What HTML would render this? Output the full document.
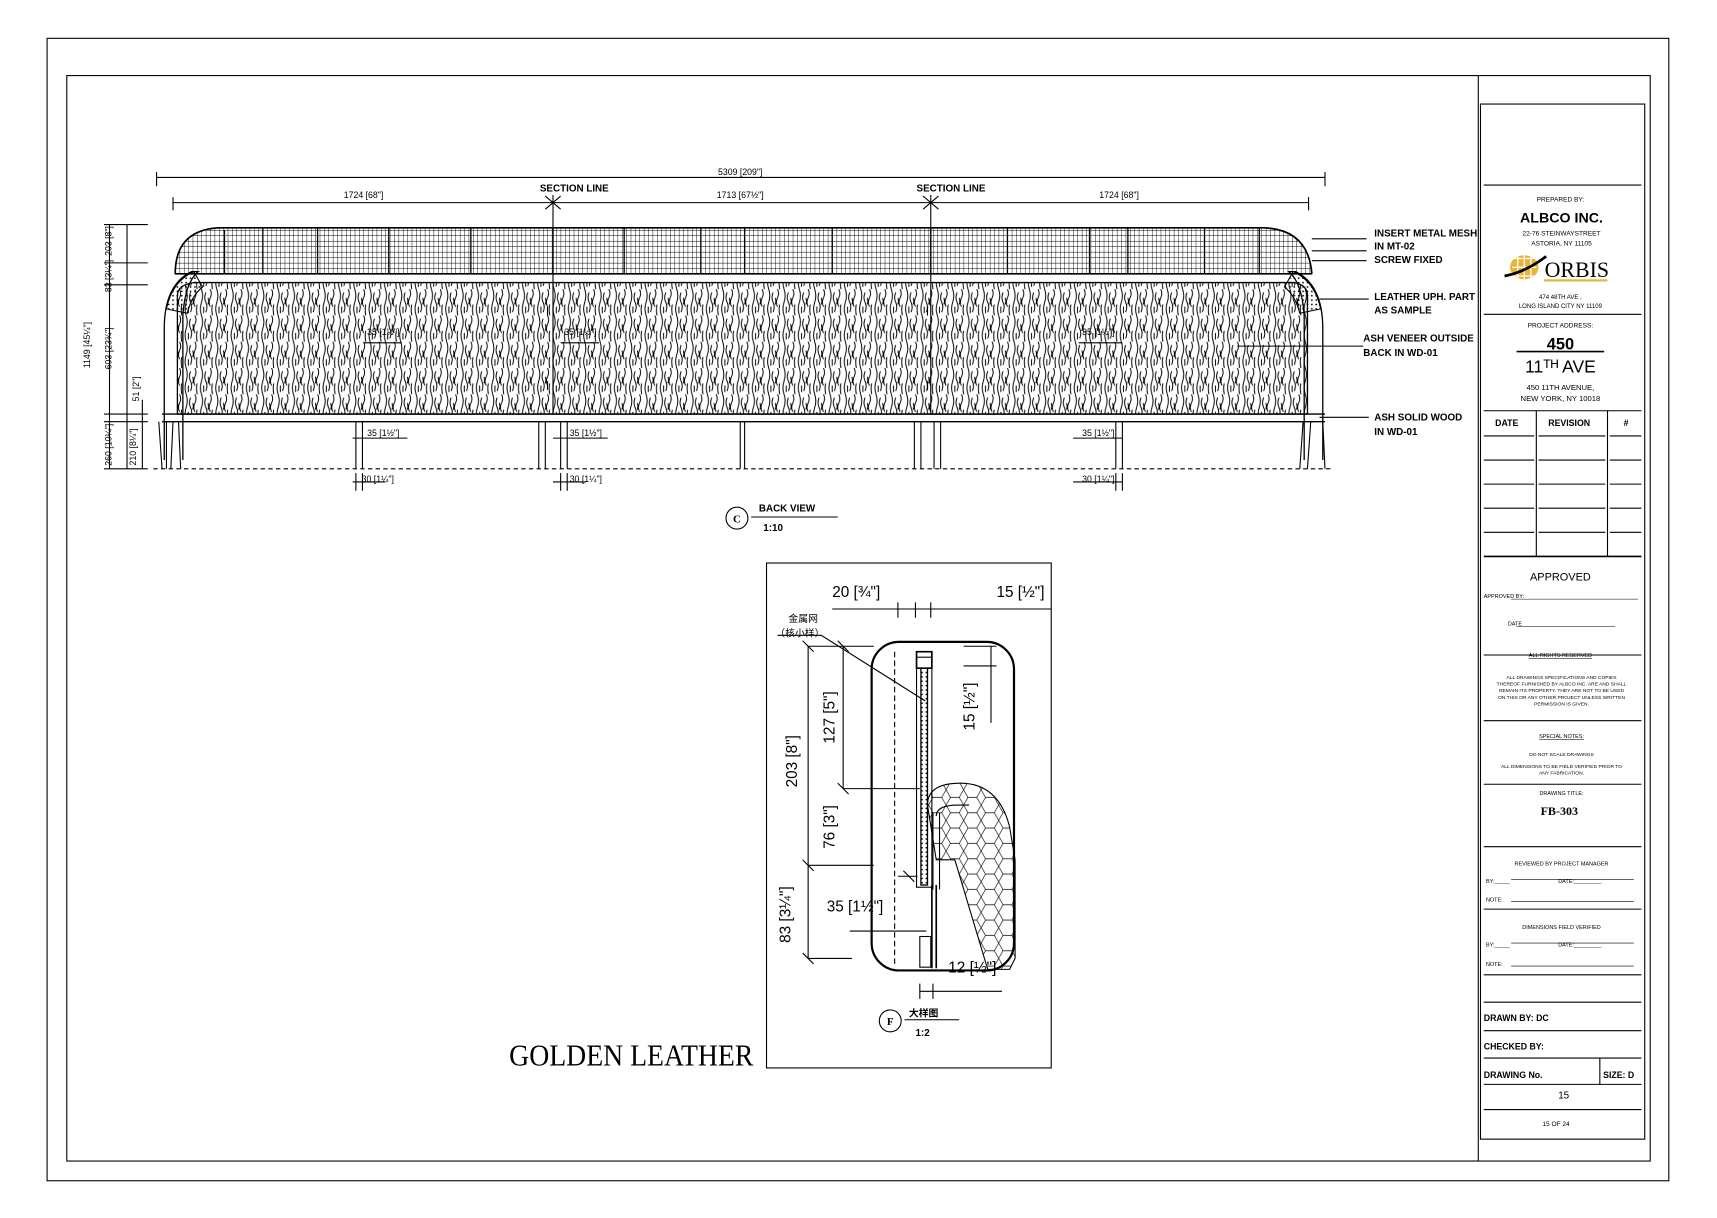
<!DOCTYPE html>
<html><head><meta charset="utf-8"><style>
html,body{margin:0;padding:0;background:#fff;}
svg{display:block}
text{font-family:"Liberation Sans","Noto Sans CJK SC",sans-serif;fill:#000}
.m{font-family:"Liberation Serif","Noto Sans CJK SC",serif;font-weight:bold}
.s{font-family:"Liberation Serif",serif}
.n{font-family:"Liberation Sans Narrow","Liberation Sans",sans-serif}
</style></head><body>
<svg width="1717" height="1218" viewBox="0 0 1568 1112" preserveAspectRatio="none" xmlns="http://www.w3.org/2000/svg">
<defs>
<pattern id="wood" width="14" height="24" patternUnits="userSpaceOnUse">
<path d="M2 0q2 6 0 12t0 12M6 3q-2 5 0 9t0 9M10 0q2 4 0 8t0 8M12 14q-1 4 0 10M4 16v6M8 8q1 3 0 6" fill="none" stroke="#000" stroke-width="0.9"/>
</pattern>
<pattern id="mesh" width="4" height="5" patternUnits="userSpaceOnUse">
<path d="M0 0v5M0 0h4" fill="none" stroke="#000" stroke-width="0.8"/>
</pattern>
<pattern id="hex" width="16" height="14" patternUnits="userSpaceOnUse">
<path d="M0 7l4-7h8l4 7-4 7h-8z" fill="none" stroke="#000" stroke-width="0.6"/>
</pattern>
<pattern id="dots" width="4" height="4" patternUnits="userSpaceOnUse"><circle cx="2" cy="2" r="0.8" fill="#000"/></pattern>
</defs>
<rect width="1568" height="1112" fill="#fff"/>
<rect x="43" y="35" width="1481" height="1043" fill="none" stroke="#000" stroke-width="1"/>
<rect x="61" y="69" width="1446" height="991" fill="none" stroke="#000" stroke-width="1"/>
<line x1="1350" y1="69" x2="1350" y2="1060" stroke="#000"/>
<rect x="1352" y="95" width="150" height="945" fill="none" stroke="#000"/>
<g stroke="#000" stroke-width="1">
<line x1="1355" y1="169" x2="1499" y2="169"/>
<line x1="1355" y1="287" x2="1499" y2="287"/>
<line x1="1355" y1="375" x2="1499" y2="375"/>
<line x1="1403" y1="375" x2="1403" y2="508"/><line x1="1468" y1="375" x2="1468" y2="508"/>
<line x1="1355" y1="398" x2="1401" y2="398"/><line x1="1405" y1="398" x2="1466" y2="398"/><line x1="1470" y1="398" x2="1499" y2="398"/>
<line x1="1355" y1="420" x2="1401" y2="420"/><line x1="1405" y1="420" x2="1466" y2="420"/><line x1="1470" y1="420" x2="1499" y2="420"/>
<line x1="1355" y1="442" x2="1401" y2="442"/><line x1="1405" y1="442" x2="1466" y2="442"/><line x1="1470" y1="442" x2="1499" y2="442"/>
<line x1="1355" y1="464" x2="1401" y2="464"/><line x1="1405" y1="464" x2="1466" y2="464"/><line x1="1470" y1="464" x2="1499" y2="464"/>
<line x1="1355" y1="486" x2="1401" y2="486"/><line x1="1405" y1="486" x2="1466" y2="486"/><line x1="1470" y1="486" x2="1499" y2="486"/>
<line x1="1355" y1="508" x2="1499" y2="508" stroke-width="1.5"/>
<line x1="1355" y1="598" x2="1499" y2="598"/>
<line x1="1355" y1="658" x2="1499" y2="658"/>
<line x1="1355" y1="716" x2="1499" y2="716"/>
<line x1="1355" y1="773" x2="1499" y2="773"/>
<line x1="1355" y1="830" x2="1499" y2="830"/>
<line x1="1355" y1="890" x2="1499" y2="890"/>
<line x1="1355" y1="915" x2="1499" y2="915"/>
<line x1="1355" y1="941" x2="1499" y2="941"/>
<line x1="1355" y1="966" x2="1499" y2="966"/>
<line x1="1461" y1="966" x2="1461" y2="990"/>
<line x1="1355" y1="990" x2="1499" y2="990"/>
<line x1="1355" y1="1013" x2="1499" y2="1013"/>
<line x1="1380" y1="803" x2="1492" y2="803" stroke-width="0.5"/>
<line x1="1380" y1="823" x2="1492" y2="823" stroke-width="0.5"/>
<line x1="1380" y1="861" x2="1492" y2="861" stroke-width="0.5"/>
<line x1="1380" y1="882" x2="1492" y2="882" stroke-width="0.5"/>
<line x1="1380" y1="547" x2="1496" y2="547" stroke-width="0.5"/>
<line x1="1385" y1="572" x2="1475" y2="572" stroke-width="0.5"/>
<line x1="1385" y1="321" x2="1465" y2="321" stroke-width="1.5"/>
</g>
<g text-anchor="middle">
<text x="1425" y="184" font-size="6">PREPARED BY:</text>
<text x="1426" y="203" font-size="13" font-weight="bold">ALBCO INC.</text>
<text x="1426" y="215" font-size="6">22-76 STEINWAYSTREET</text>
<text x="1426" y="224" font-size="6">ASTORIA, NY 11105</text>
<text x="1440" y="253" font-size="20" class="s">ORBIS</text>
<text x="1425" y="273" font-size="5.5">474 48TH AVE ,</text>
<text x="1425" y="281" font-size="5.5">LONG ISLAND CITY NY 11109</text>
<text x="1425" y="299" font-size="6">PROJECT ADDRESS:</text>
<text x="1425" y="319" font-size="15" font-weight="bold">450</text>
<text x="1425" y="340" font-size="16" fill="#444">11ᵀᴴ AVE</text>
<text x="1425" y="356" font-size="7">450 11TH AVENUE,</text>
<text x="1425" y="366" font-size="7">NEW YORK, NY 10018</text>
<text x="1376" y="389" font-size="8" font-weight="bold">DATE</text>
<text x="1433" y="389" font-size="8" font-weight="bold">REVISION</text>
<text x="1485" y="389" font-size="8" font-weight="bold">#</text>
<text x="1425" y="530" font-size="10">APPROVED</text>
<text x="1425" y="600" font-size="5" text-decoration="underline">ALL RIGHTS RESERVED</text>
<text x="1426" y="620" font-size="4.5">ALL DRAWINGS SPECIFICATIONS AND COPIES</text>
<text x="1426" y="626" font-size="4.5">THEREOF FURNISHED BY ALBCO INC. ARE AND SHALL</text>
<text x="1426" y="632" font-size="4.5">REMAIN ITS PROPERTY. THEY ARE NOT TO BE USED</text>
<text x="1426" y="638" font-size="4.5">ON THIS OR ANY OTHER PROJECT UNLESS WRITTEN</text>
<text x="1426" y="644" font-size="4.5">PERMISSION IS GIVEN.</text>
<text x="1426" y="674" font-size="5" text-decoration="underline">SPECIAL NOTES:</text>
<text x="1426" y="690" font-size="4.5">DO NOT SCALE DRAWINGS</text>
<text x="1426" y="701" font-size="4.5">ALL DIMENSIONS TO BE FIELD VERIFIED PRIOR TO</text>
<text x="1426" y="707" font-size="4.5">ANY FABRICATION.</text>
<text x="1426" y="726" font-size="5">DRAWING TITLE:</text>
<text x="1424" y="744" font-size="11" class="m">FB-303</text>
<text x="1426" y="790" font-size="5">REVIEWED BY PROJECT MANAGER</text>
<text x="1426" y="848" font-size="5">DIMENSIONS FIELD VERIFIED</text>
<text x="1428" y="1003" font-size="9">15</text>
<text x="1421" y="1028" font-size="6">15 OF 24</text>
</g>
<g font-size="5">
<text x="1357" y="806">BY:_____</text><text x="1423" y="806">DATE:_________</text>
<text x="1357" y="823">NOTE:</text>
<text x="1357" y="864">BY:_____</text><text x="1423" y="864">DATE:_________</text>
<text x="1357" y="882">NOTE:</text>
<text x="1355" y="546">APPROVED BY:</text>
<text x="1377" y="571">DATE</text>
</g>
<g font-size="8" font-weight="bold">
<text x="1355" y="932">DRAWN BY: DC</text>
<text x="1355" y="958">CHECKED BY:</text>
<text x="1355" y="984">DRAWING No.</text>
<text x="1464" y="984">SIZE: D</text>
</g>
<ellipse cx="1392" cy="244" rx="13" ry="11" fill="#e8b53a"/>
<path d="M1383 236h18M1381 244h22M1383 252h18M1386 234v20M1392 233v22M1398 234v20" stroke="#fff" stroke-width="1.2"/>
<path d="M1374 252q20 -4 38 -18" stroke="#000" stroke-width="2.5" fill="none"/>
<rect x="1410" y="255" width="58" height="2" fill="#e8b53a"/>

<g stroke="#000" fill="none" stroke-width="1">
<line x1="143" y1="162" x2="1210" y2="162"/><line x1="143" y1="157" x2="143" y2="170"/><line x1="1210" y1="157" x2="1210" y2="170"/>
<line x1="158" y1="185" x2="1195" y2="185"/>
<line x1="158" y1="180" x2="158" y2="192"/><line x1="1195" y1="180" x2="1195" y2="192"/>
<line x1="505" y1="178" x2="505" y2="378"/><line x1="850" y1="178" x2="850" y2="378"/>
<path d="M498 179l14 12M512 179l-14 12M843 179l14 12M857 179l-14 12"/>
<path d="M160 250q0-40 40-42h955q40 2 43 42z" fill="url(#mesh)"/>
<path d="M160 250q0-40 40-42h955q40 2 43 42" stroke-width="1.5"/>
<path d="M160 250h1038" stroke-width="1.5"/>
<path d="M205 210v40M240 208v42M290 208v42M355 208v42M430 208v42M505 208v42M570 208v42M640 208v42M680 208v42M760 208v42M850 208v42M920 208v42M995 208v42M1030 208v42M1100 208v42M1150 208v42" stroke-width="1.2"/>
<path d="M150 420v-120q0-40 25-52h6q-12 10-14 40v132" stroke-width="1.2"/>
<path d="M152 282q5-25 25-34l8 14q-10 8-14 24z" fill="url(#dots)"/>
<path d="M1208 420v-120q0-40-25-52h-6q12 10 14 40v132" stroke-width="1.2"/>
<path d="M1206 282q-5-25-25-34l-8 14q10 8 14 24z" fill="url(#dots)"/>
<path d="M162 378v-108q0-10 15-12h1005q12 2 12 12v108z" fill="url(#wood)" stroke-width="1.2"/>
<line x1="148" y1="378" x2="1210" y2="378" stroke-width="1.2"/>
<line x1="148" y1="385" x2="1210" y2="385" stroke-width="1.2"/>
<path d="M145 385l3 43M158 385l-2 43M163 385l2 43M152 385v43M1197 385l-3 43M1208 385l2 43M1190 385l-3 43"/>
<path d="M325 385v43M331 385v43M492 385v43M498 385v43M512 385v43M518 385v43M676 385v43M680 385v43M835 385v43M841 385v43M853 385v43M859 385v43M1019 385v43M1025 385v43"/>
<line x1="140" y1="428" x2="1218" y2="428" stroke-dasharray="4 3"/>
<path d="M322 400h50M505 400h50M980 400h45M322 440h30M505 440h30M980 440h45"/>
<path d="M325 432v16M331 432v16M512 432v16M518 432v16M1019 432v16M1025 432v16"/>
<path d="M332 313h35M512 313h35M985 313h40"/>
<path d="M100 205v223M116 205v223M130 365v63M95 205h40M95 240h40M95 260h40M95 378h40M95 385h40M95 428h40"/>
<path d="M1198 218h50M1198 229h50M1198 238h50M1205 273h45M1130 316h115M1205 381h45"/>
<path d="M847 280v8M847 348v8M500 280v8M500 348v8"/>
</g>
<g font-size="8" class="n" text-anchor="middle">
<text x="676" y="160">5309 [209"]</text>
<text x="332" y="181">1724 [68"]</text>
<text x="676" y="181">1713 [67½"]</text>
<text x="1022" y="181">1724 [68"]</text>
<text x="350" y="398">35 [1½"]</text><text x="535" y="398">35 [1½"]</text><text x="1003" y="398">35 [1½"]</text>
<text x="345" y="440">30 [1¼"]</text><text x="535" y="440">30 [1¼"]</text><text x="1003" y="440">30 [1¼"]</text>
<text x="350" y="306">35 [1½"]</text><text x="530" y="306">35 [1½"]</text><text x="1003" y="306">35 [1½"]</text>
</g>
<g font-size="8" class="n" text-anchor="middle">
<text transform="translate(82 315) rotate(-90)">1149 [45¼"]</text>
<text transform="translate(102 220) rotate(-90)">203 [8"]</text>
<text transform="translate(102 252) rotate(-90)">83 [3¼"]</text>
<text transform="translate(102 318) rotate(-90)">603 [23¾"]</text>
<text transform="translate(127 355) rotate(-90)">51 [2"]</text>
<text transform="translate(102 406) rotate(-90)">260 [10¼"]</text>
<text transform="translate(124 408) rotate(-90)">210 [8¼"]</text>
</g>
<g font-size="9" class="m">
<text x="493" y="175">SECTION LINE</text>
<text x="837" y="175">SECTION LINE</text>
<text x="1255" y="216">INSERT METAL MESH</text>
<text x="1255" y="228">IN MT-02</text>
<text x="1255" y="240">SCREW FIXED</text>
<text x="1255" y="274">LEATHER UPH. PART</text>
<text x="1255" y="286">AS SAMPLE</text>
<text x="1245" y="312">ASH VENEER OUTSIDE</text>
<text x="1245" y="325">BACK IN WD-01</text>
<text x="1255" y="384">ASH SOLID WOOD</text>
<text x="1255" y="397">IN WD-01</text>
<text x="693" y="467">BACK VIEW</text>
<text x="697" y="485">1:10</text>
<text x="830" y="928">大样图</text>
<text x="836" y="946">1:2</text>
</g>
<circle cx="673" cy="473" r="10" fill="none" stroke="#000"/>
<text x="673" y="477" font-size="10" text-anchor="middle" class="m">C</text>
<line x1="686" y1="472" x2="765" y2="472" stroke="#000"/>
<circle cx="813" cy="932" r="10" fill="none" stroke="#000"/>
<text x="813" y="936" font-size="10" text-anchor="middle" class="m">F</text>
<line x1="826" y1="931" x2="876" y2="931" stroke="#000"/>

<rect x="700" y="514" width="260" height="461" fill="none" stroke="#000"/>
<text x="465" y="973" font-size="28" class="s" textLength="223" lengthAdjust="spacingAndGlyphs">GOLDEN   LEATHER</text>
<g stroke="#000" fill="none">
<rect x="796" y="586" width="130" height="300" rx="25" stroke-width="2"/>
<line x1="817" y1="595" x2="817" y2="880" stroke-dasharray="5 3"/>
<rect x="837" y="595" width="14" height="15" stroke-width="1.5"/>
<rect x="841" y="610" width="6" height="198" fill="url(#dots)" stroke-width="1.2"/>
<rect x="837" y="600" width="14" height="210"/>
<path d="M851 808v76M855 808v76" stroke-width="1.5"/>
<path d="M847 735q0-20 30-20 35 0 45 40l5 30v90l-5 10h-20l-30-100-17 0z" fill="url(#hex)"/>
<path d="M855 745q0-10 20-10l10 0" />
<path d="M852 742v70M858 742v70"/>
<path d="M820 800h18M825 795l10 10"/>
<rect x="840" y="855" width="10" height="28"/>
<path d="M760 556h200M820 550v14M836 550v14M850 550v14"/>
<path d="M738 590h60M770 590v130M770 720h70M738 590v200M738 790h60M738 875h40M738 790v85M776 850h70M880 590h30M880 608h30M905 590v70M840 905h75M840 898v14M852 898v14"/>
<path d="M710 580h40l95 60"/>
<path d="M733 585l10 10M765 585l10 10M733 785l10 10M765 715l10 10M733 870l10 10"/>
</g>
<g font-size="14" class="n">
<text x="760" y="545">20 [¾"]</text>
<text x="910" y="545">15 [½"]</text>
<text x="755" y="832">35 [1½"]</text>
<text x="866" y="888">12 [½"]</text>
<text transform="translate(728 695) rotate(-90)" text-anchor="middle">203 [8"]</text>
<text transform="translate(762 655) rotate(-90)" text-anchor="middle">127 [5"]</text>
<text transform="translate(762 755) rotate(-90)" text-anchor="middle">76 [3"]</text>
<text transform="translate(722 835) rotate(-90)" text-anchor="middle">83 [3¼"]</text>
<text transform="translate(890 645) rotate(-90)" text-anchor="middle">15 [½"]</text>
</g>
<text x="720" y="568" font-size="9">金属网</text>
<text x="708" y="581" font-size="9">（核小样）</text>
</svg>
</body></html>
